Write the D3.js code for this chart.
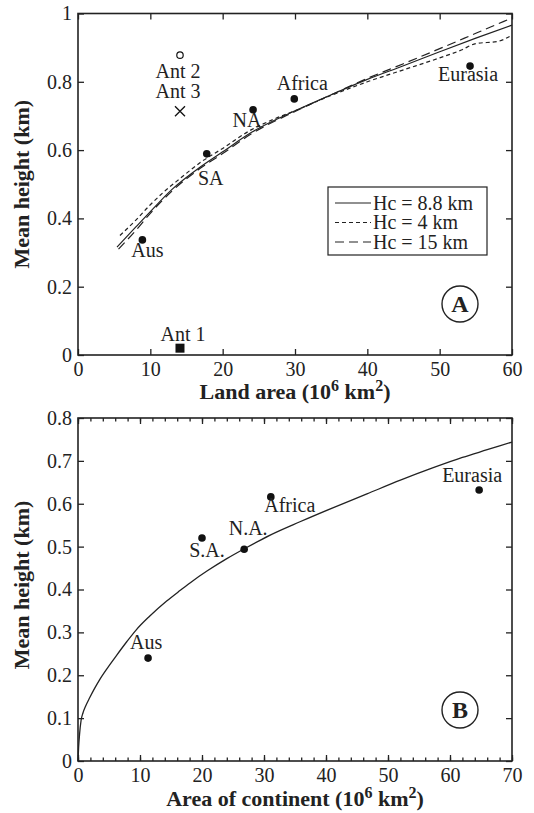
<!DOCTYPE html>
<html>
<head>
<meta charset="utf-8">
<script src="https://cdn.jsdelivr.net/npm/d3@7"></script>
<style>
  body { margin: 0; background: #fff; }
  text { font-family: "Liberation Serif", "Times New Roman", serif; fill: #222; }
</style>
</head>
<body>
<div id="chart"></div>
<script>
// ---------------- data ----------------
// panel A: continents
const contNamesA = ["Aus", "SA", "NA", "Africa", "Eurasia"]
const contAreaA = [8.9, 17.8, 24.2, 29.9, 54.2]
const contHeightA = [0.337, 0.589, 0.718, 0.750, 0.846]
// panel A: antarctica estimates
const antNames = ["Ant 1", "Ant 2", "Ant 3"]
const antArea = [14.1, 14.1, 14.1]
const antHeight = [0.02, 0.878, 0.714]
// panel A: model curves
const curve88Area = [5.4, 8, 10, 13, 17, 20, 24, 30, 35, 40, 45, 50, 55, 60]
const curve88Height = [0.316, 0.375, 0.42, 0.485, 0.552, 0.595, 0.652, 0.715, 0.762, 0.807, 0.847, 0.888, 0.928, 0.966]
const curve4Area = [5.8, 8, 10, 12, 14, 17, 20, 24, 27, 30, 35, 40, 45, 50, 53, 55, 58, 60]
const curve4Height = [0.35, 0.395, 0.44, 0.48, 0.515, 0.565, 0.605, 0.66, 0.69, 0.715, 0.76, 0.80, 0.835, 0.87, 0.893, 0.912, 0.918, 0.937]
const curve15Area = [5.6, 8, 10, 13, 17, 20, 24, 30, 35, 40, 45, 50, 55, 60]
const curve15Height = [0.31, 0.365, 0.415, 0.48, 0.548, 0.59, 0.648, 0.713, 0.762, 0.81, 0.853, 0.897, 0.942, 0.987]
const legendLabels = ["Hc = 8.8 km", "Hc = 4 km", "Hc = 15 km"]
const ticksAx = [0, 10, 20, 30, 40, 50, 60]
const ticksAy = [0, 0.2, 0.4, 0.6, 0.8, 1]

// panel B
const contNamesB = ["Aus", "S.A.", "N.A.", "Africa", "Eurasia"]
const contAreaB = [11.3, 20.0, 26.8, 31.1, 64.7]
const contHeightB = [0.240, 0.520, 0.494, 0.616, 0.632]
const curveBArea = [0, 0.1, 0.25, 0.5, 0.8, 1.2, 1.9, 2.7, 3.5, 4.8, 6.2, 7.8, 9.4, 11.5, 14.3, 16.5, 18.5, 20.8, 24, 27.2, 31, 35.8, 41, 46.6, 52, 57.3, 62, 66, 70]
const curveBHeight = [0, 0.032, 0.062, 0.095, 0.112, 0.127, 0.148, 0.17, 0.19, 0.218, 0.246, 0.277, 0.306, 0.337, 0.373, 0.398, 0.42, 0.443, 0.472, 0.498, 0.527, 0.558, 0.59, 0.623, 0.655, 0.684, 0.708, 0.726, 0.744]
const ticksBx = [0, 10, 20, 30, 40, 50, 60, 70]
const minorBx = d3.range(0, 71, 2)
const ticksBy = [0, 0.1, 0.2, 0.3, 0.4, 0.5, 0.6, 0.7, 0.8]

// ---------------- layout ----------------
const WIDTH = 534
const HEIGHT = 813
const LEFT = 78, RIGHT = 512
const A = {top: 13.5, bottom: 355}
const B = {top: 418, bottom: 761}
const FS = 20

// label offsets (px) relative to their marker
const offA = {"Aus": [5, 17], "SA": [4, 31], "NA": [-6, 17], "Africa": [8, -9], "Eurasia": [-2, 15]}
const offAnt = {"Ant 1": [3, -7], "Ant 2": [-2, 23], "Ant 3": [-2, -13]}
const offB = {"Aus": [-2, -9], "S.A.": [5, 19], "N.A.": [4, -14], "Africa": [19, 15], "Eurasia": [-7, -8]}

const svg = d3.select("#chart").append("svg")
  .attr("width", WIDTH)
  .attr("height", HEIGHT)

function frame(g, x, y, box, xt, yt, xfmt, yfmt, minor) {
  const h = box.bottom - box.top
  // bottom axis with labels
  g.append("g").attr("transform", `translate(0,${box.bottom})`)
    .call(d3.axisBottom(x).tickValues(xt).tickSize(-6).tickPadding(7).tickFormat(xfmt))
  g.append("g").attr("transform", `translate(0,${box.top})`)
    .call(d3.axisTop(x).tickValues(xt).tickSize(-6).tickFormat(""))
  if (minor) {
    g.append("g").attr("transform", `translate(0,${box.bottom})`)
      .call(d3.axisBottom(x).tickValues(minor).tickSize(-3.5).tickFormat(""))
    g.append("g").attr("transform", `translate(0,${box.top})`)
      .call(d3.axisTop(x).tickValues(minor).tickSize(-3.5).tickFormat(""))
  }
  g.append("g").attr("transform", `translate(${LEFT},0)`)
    .call(d3.axisLeft(y).tickValues(yt).tickSize(-6).tickPadding(6).tickFormat(yfmt))
  g.append("g").attr("transform", `translate(${RIGHT},0)`)
    .call(d3.axisRight(y).tickValues(yt).tickSize(-6).tickFormat(""))
  g.selectAll(".domain").remove()
  g.selectAll(".tick line").attr("stroke", "#222").attr("stroke-width", 1.3)
  g.selectAll(".tick text").attr("font-size", FS).attr("fill", "#222")
    .style("font-family", '"Liberation Serif", "Times New Roman", serif')
  g.append("rect")
    .attr("x", LEFT).attr("y", box.top)
    .attr("width", RIGHT - LEFT).attr("height", h)
    .attr("fill", "none").attr("stroke", "#222").attr("stroke-width", 1.6)
}

function fmt(d) { return d === 0 ? "0" : d === 1 ? "1" : d3.format(".1f")(d) }

function xTitle(g, cx, baseline, main) {
  const t = g.append("text")
    .attr("x", cx).attr("y", baseline)
    .attr("text-anchor", "middle")
    .attr("font-size", 22).attr("font-weight", "bold")
  t.append("tspan").text(main + " (10")
  t.append("tspan").attr("font-size", 16).attr("dy", -8).text("6")
  t.append("tspan").attr("dy", 8).text(" km")
  t.append("tspan").attr("font-size", 16).attr("dy", -8).text("2")
  t.append("tspan").attr("dy", 8).text(")")
}

function yTitle(g, cy) {
  g.append("text")
    .attr("transform", `translate(29,${cy}) rotate(-90)`)
    .attr("text-anchor", "middle")
    .attr("font-size", 22).attr("font-weight", "bold")
    .text("Mean height (km)")
}

function badge(g, cx, cy, letter) {
  g.append("circle").attr("cx", cx).attr("cy", cy).attr("r", 18)
    .attr("fill", "none").attr("stroke", "#222").attr("stroke-width", 1.4)
  g.append("text").attr("x", cx).attr("y", cy + 8)
    .attr("text-anchor", "middle").attr("font-size", 24).attr("font-weight", "bold")
    .text(letter)
}

// ---------------- panel A ----------------
const gA = svg.append("g")
const xA = d3.scaleLinear().domain([0, 60]).range([LEFT, RIGHT])
const yA = d3.scaleLinear().domain([0, 1]).range([A.bottom, A.top])

const lineA = d3.line().x(d => xA(d[0])).y(d => yA(d[1])).curve(d3.curveMonotoneX)
const curvesA = [
  {xs: curve88Area, ys: curve88Height, dash: null},
  {xs: curve4Area, ys: curve4Height, dash: "4,3"},
  {xs: curve15Area, ys: curve15Height, dash: "9,5"}
]
curvesA.forEach(c => {
  gA.append("path")
    .attr("d", lineA(c.xs.map((v, i) => [v, c.ys[i]])))
    .attr("fill", "none").attr("stroke", "#222").attr("stroke-width", 1.2)
    .attr("stroke-dasharray", c.dash)
})

frame(gA, xA, yA, A, ticksAx, ticksAy, d3.format("d"), fmt)

// continent dots
contNamesA.forEach((n, i) => {
  const px = xA(contAreaA[i]), py = yA(contHeightA[i])
  gA.append("circle").attr("cx", px).attr("cy", py).attr("r", 3.8).attr("fill", "#111")
  gA.append("text").attr("x", px + offA[n][0]).attr("y", py + offA[n][1])
    .attr("text-anchor", "middle").attr("font-size", FS).text(n)
})

// antarctica markers: square, open circle, cross
antNames.forEach((n, i) => {
  const px = xA(antArea[i]), py = yA(antHeight[i])
  if (i === 0) {
    gA.append("rect").attr("x", px - 4.5).attr("y", py - 4.5).attr("width", 9).attr("height", 9).attr("fill", "#111")
  } else if (i === 1) {
    gA.append("circle").attr("cx", px).attr("cy", py).attr("r", 3.2)
      .attr("fill", "#fff").attr("stroke", "#111").attr("stroke-width", 1.2)
  } else {
    gA.append("path").attr("d", `M${px - 5},${py - 5}L${px + 5},${py + 5}M${px - 5},${py + 5}L${px + 5},${py - 5}`)
      .attr("stroke", "#111").attr("stroke-width", 1.3)
  }
  gA.append("text").attr("x", px + offAnt[n][0]).attr("y", py + offAnt[n][1])
    .attr("text-anchor", "middle").attr("font-size", FS).text(n)
})

// legend
const leg = gA.append("g")
leg.append("rect").attr("x", 328).attr("y", 187).attr("width", 159).attr("height", 68)
  .attr("fill", "#fff").attr("stroke", "#222").attr("stroke-width", 1.2)
legendLabels.forEach((l, i) => {
  const ly = 203 + i * 19.5
  leg.append("line").attr("x1", 335).attr("x2", 371).attr("y1", ly).attr("y2", ly)
    .attr("stroke", "#222").attr("stroke-width", 1.2).attr("stroke-dasharray", curvesA[i].dash)
  leg.append("text").attr("x", 373).attr("y", ly + 6.5).attr("font-size", FS).text(l)
})

badge(gA, 460, 304, "A")
xTitle(gA, 295, 399, "Land area")
yTitle(gA, (A.top + A.bottom) / 2)

// ---------------- panel B ----------------
const gB = svg.append("g")
const xB = d3.scaleLinear().domain([0, 70]).range([LEFT, RIGHT])
const yB = d3.scaleLinear().domain([0, 0.8]).range([B.bottom, B.top])

gB.append("path")
  .attr("d", d3.line().x(d => xB(d[0])).y(d => yB(d[1])).curve(d3.curveMonotoneX)(curveBArea.map((v, i) => [v, curveBHeight[i]])))
  .attr("fill", "none").attr("stroke", "#222").attr("stroke-width", 1.3)

frame(gB, xB, yB, B, ticksBx, ticksBy, d3.format("d"), fmt, minorBx)

contNamesB.forEach((n, i) => {
  const px = xB(contAreaB[i]), py = yB(contHeightB[i])
  gB.append("circle").attr("cx", px).attr("cy", py).attr("r", 3.8).attr("fill", "#111")
  gB.append("text").attr("x", px + offB[n][0]).attr("y", py + offB[n][1])
    .attr("text-anchor", "middle").attr("font-size", FS).text(n)
})

badge(gB, 460, 710, "B")
xTitle(gB, 295, 806, "Area of continent")
yTitle(gB, 585)
</script>
</body>
</html>
